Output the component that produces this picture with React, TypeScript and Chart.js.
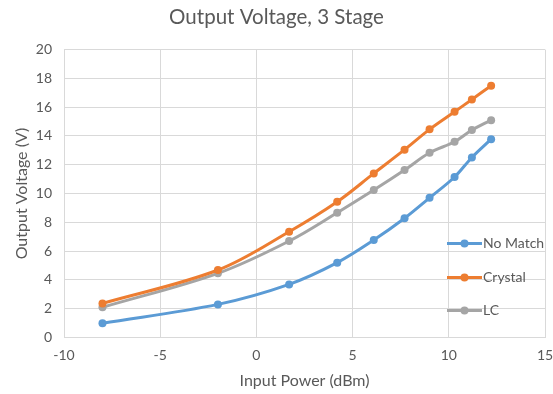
import React, { useEffect, useRef } from "react";
import { Chart, registerables } from "chart.js";

Chart.register(...registerables);

const inputPower = [-8, -2, 1.7, 4.2, 6.1, 7.7, 9.0, 10.3, 11.2, 12.2];
const noMatch = [0.99, 2.3, 3.69, 5.2, 6.77, 8.28, 9.7, 11.15, 12.51, 13.78];
const crystal = [2.37, 4.69, 7.35, 9.43, 11.4, 13.05, 14.46, 15.68, 16.54, 17.49];
const lc = [2.1, 4.46, 6.7, 8.67, 10.24, 11.63, 12.83, 13.6, 14.41, 15.1];
const seriesNames = ["No Match", "Crystal", "LC"];
const seriesColors = ["#5B9BD5", "#ED7D31", "#A5A5A5"];

const FONT = "Lato, 'Open Sans', sans-serif";
const TEXT = "#595959";
const GRID = "#D9D9D9";

const legendPlugin = {
  id: "insideLegend",
  afterDatasetsDraw(chart: any) {
    const ctx = chart.ctx;
    const area = chart.chartArea;
    const x0 = area.right - 98;
    const ys = [area.top + 194, area.top + 228, area.top + 261];
    ctx.save();
    chart.data.datasets.forEach((ds: any, i: number) => {
      const y = ys[i];
      ctx.strokeStyle = ds.borderColor;
      ctx.lineWidth = 3;
      ctx.beginPath();
      ctx.moveTo(x0, y);
      ctx.lineTo(x0 + 35, y);
      ctx.stroke();
      ctx.fillStyle = ds.borderColor;
      ctx.beginPath();
      ctx.arc(x0 + 17.5, y, 4, 0, Math.PI * 2);
      ctx.fill();
      ctx.fillStyle = TEXT;
      ctx.font = `14px ${FONT}`;
      ctx.textBaseline = "middle";
      ctx.textAlign = "left";
      ctx.fillText(ds.label, x0 + 36, y);
    });
    ctx.restore();
  },
};

export default function App() {
  const ref = useRef<HTMLCanvasElement | null>(null);
  useEffect(() => {
    if (!ref.current) return;
    const allSeries = [noMatch, crystal, lc];
    const chart = new Chart(ref.current, {
      type: "line",
      data: {
        datasets: allSeries.map((vals, i) => ({
          label: seriesNames[i],
          data: inputPower.map((x, j) => ({ x, y: vals[j] })),
          borderColor: seriesColors[i],
          backgroundColor: seriesColors[i],
          borderWidth: 3,
          pointRadius: 4,
          pointHoverRadius: 4,
          pointBorderWidth: 0,
          tension: 0.35,
          fill: false,
        })),
      },
      options: {
        animation: false,
        responsive: false,
        maintainAspectRatio: false,
        layout: { padding: { left: 0, right: 0, top: 0, bottom: 0 } },
        plugins: {
          legend: { display: false },
          tooltip: { enabled: false },
          title: {
            display: true,
            text: "Output Voltage, 3 Stage",
            color: TEXT,
            font: { family: FONT, size: 20.5, weight: "normal", lineHeight: 1.2 },
            padding: { top: 5, bottom: 20 },
          },
        },
        scales: {
          x: {
            type: "linear",
            min: -10,
            max: 15,
            afterFit: (s: any) => {
              s.height = 56.5;
              s.paddingRight = 8;
            },
            ticks: {
              stepSize: 5,
              color: TEXT,
              padding: 10,
              font: { family: FONT, size: 14 },
            },
            grid: { color: GRID, drawTicks: false },
            border: { color: GRID },
            title: {
              display: true,
              text: "Input Power (dBm)",
              color: TEXT,
              font: { family: FONT, size: 16, lineHeight: 1.2 },
              padding: { top: 0, bottom: 3.5 },
            },
          },
          y: {
            type: "linear",
            min: 0,
            max: 20,
            afterFit: (s: any) => {
              s.width = 64;
            },
            ticks: {
              stepSize: 2,
              color: TEXT,
              padding: 12,
              font: { family: FONT, size: 14 },
            },
            grid: { color: GRID, drawTicks: false },
            border: { color: GRID },
            title: {
              display: true,
              text: "Output Voltage (V)",
              color: TEXT,
              font: { family: FONT, size: 16, lineHeight: 1.2 },
              padding: { top: 12.5, bottom: 0 },
            },
          },
        },
      },
      plugins: [legendPlugin],
    });
    return () => chart.destroy();
  }, []);
  return (
    <div style={{ position: "fixed", left: 0, top: 0, width: 553, height: 394, background: "#fff" }}>
      <canvas ref={ref} width={553} height={394} style={{ width: 553, height: 394 }} />
    </div>
  );
}
